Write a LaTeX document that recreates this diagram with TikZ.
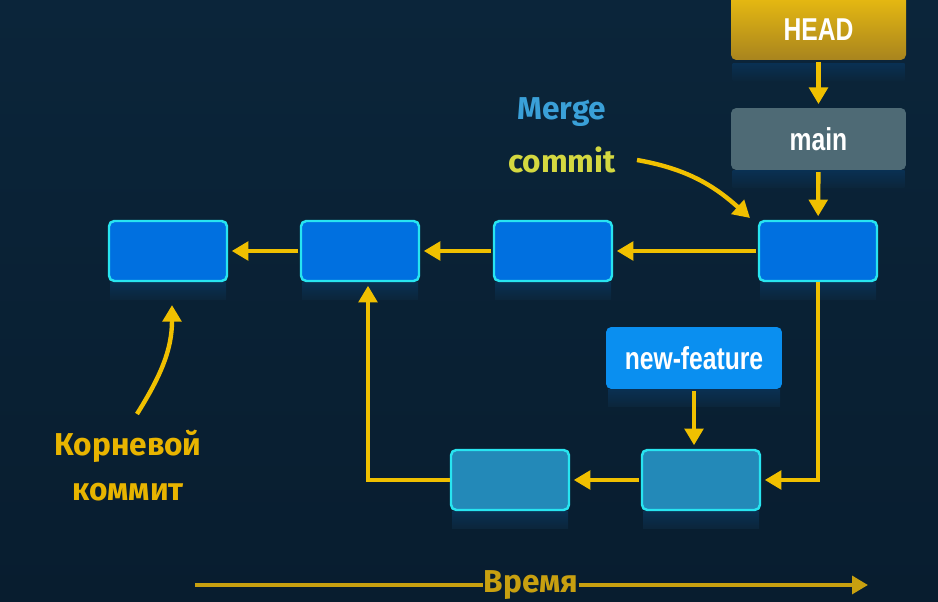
\documentclass[tikz,border=0pt]{standalone}
\usepackage{fontspec}
\usetikzlibrary{arrows.meta}
\newfontfamily\boxfont[FakeStretch=0.78]{Liberation Sans}
\newfontfamily\handfont{Fira Sans}
\definecolor{bgtop}{RGB}{11,37,58}
\definecolor{bgbot}{RGB}{8,29,47}
\definecolor{cfill}{RGB}{0,112,224}
\definecolor{cedge}{RGB}{40,228,240}
\definecolor{ffill}{RGB}{35,137,184}
\definecolor{arr}{RGB}{240,192,0}
\definecolor{headtop}{RGB}{236,190,16}
\definecolor{headbot}{RGB}{168,132,30}
\definecolor{mainfill}{RGB}{78,106,117}
\definecolor{nffill}{RGB}{10,143,240}
\definecolor{mergeblue}{RGB}{58,160,216}
\definecolor{commitgreen}{RGB}{212,216,64}
\definecolor{rootgold}{RGB}{232,180,0}
\definecolor{timegold}{RGB}{200,160,16}
\begin{document}
\begin{tikzpicture}[x=0.02cm,y=0.02cm,
  commitbox/.style={draw=cedge, line width=1.4pt, fill=cfill, rounded corners=3pt,
    minimum width=2.36cm, minimum height=1.2cm, inner sep=0pt},
  featbox/.style={commitbox, fill=ffill},
  labelbox/.style={rounded corners=3pt, minimum width=3.5cm, minimum height=1.24cm,
    inner sep=0pt, text=white, font=\boxfont\bfseries\fontsize{18}{20}\selectfont},
  yarrow/.style={draw=arr, line width=2.5pt, -{Triangle[length=9.5pt,width=10.5pt]}},
  hand/.style={font=\handfont\bfseries\fontsize{18}{20}\selectfont, inner sep=0pt},
  timeline/.style={draw=timegold, line width=2.4pt}
]
\useasboundingbox (0,0) rectangle (938,602);
\clip (0,0) rectangle (938,602);
\shade[top color=bgtop, bottom color=bgbot] (0,0) rectangle (938,602);

% reflections (drawn first, subtle)
\foreach \cx/\cy/\w in {168/320/58,360/320/58,553/320/58,818/320/58,510/91/58,701/91/58,818.5/432/86,694/213/86,818.5/539/86}{
  \shade[top color=cfill!14!bgtop, bottom color=bgtop]
    (\cx-\w,\cy-1) rectangle (\cx+\w,\cy-18);
}

% commits
\node[commitbox] (C1) at (168,351) {};
\node[commitbox] (C2) at (360,351) {};
\node[commitbox] (C3) at (553,351) {};
\node[commitbox] (C4) at (818,351) {};
\node[featbox] (B1) at (510,122) {};
\node[featbox] (B2) at (701,122) {};

% labels
\shade[top color=headtop, bottom color=headbot, rounded corners=3pt]
  (731,542) rectangle (906,610);
\node[labelbox] (head) at (818.5,572) {HEAD};
\node[labelbox, fill=mainfill] (main) at (818.5,463) {main};
\node[labelbox, fill=nffill, minimum width=3.52cm] (nf) at (694,244) {new-feature};

% connectors
\draw[yarrow, shorten <=1pt, shorten >=2pt] (head.south |- 0,542) -- (main);
\draw[yarrow, shorten <=1pt, shorten >=2pt] (main) -- (C4);
\draw[yarrow, shorten <=1pt, shorten >=2pt] (C4) -- (C3);
\draw[yarrow, shorten <=1pt, shorten >=2pt] (C3) -- (C2);
\draw[yarrow, shorten <=1pt, shorten >=2pt] (C2) -- (C1);
\draw[yarrow, shorten >=2pt] (C4.south) |- (B2.east);
\draw[yarrow, shorten <=1pt, shorten >=2pt] (B2) -- (B1);
\draw[yarrow, shorten >=2pt] (B1.west) -| ([xshift=0.16cm]C2.south);
\draw[yarrow, shorten <=1pt, shorten >=2pt] (nf.south) -- (nf.south |- B2.north);

% merge commit annotation
\node[hand, text=mergeblue] (mergelbl) at (562,490) {Merge};
\node[hand, text=commitgreen] (commitlbl) at (562,442) {commit};
\coordinate (mstart) at (637,442);
\coordinate (mtip) at (750,384);
\draw[yarrow] (mstart) to[out=-10, in=138] (mtip);

% root commit annotation
\node[hand, text=rootgold] (root1) at (128,156) {Корневой};
\node[hand, text=rootgold] (root2) at (128,110) {коммит};
\coordinate (rstart) at (137,188);
\coordinate (rtip) at (172,297);
\draw[yarrow] (rstart) to[out=58, in=-90] (rtip);

% time axis
\node[hand, text=timegold, anchor=base] (time) at (531,9) {Время};
\coordinate (t0) at (195,17);
\coordinate (t1) at (868,17);
\draw[timeline] (t0) -- (t0 -| time.west);
\draw[timeline, -{Triangle[length=9pt,width=10pt]}] (time.east |- t0) -- (t1);
\end{tikzpicture}
\end{document}
